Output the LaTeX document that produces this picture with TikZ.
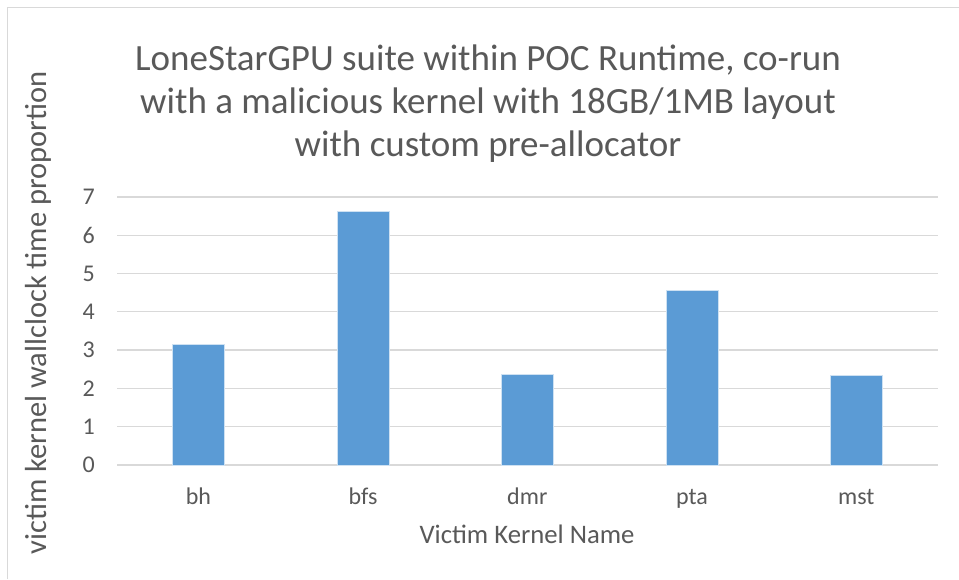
\documentclass[tikz,border=0pt]{standalone}
\usepackage{fontspec}
\setmainfont{Carlito}
\definecolor{barblue}{HTML}{5B9BD5}
\definecolor{gridgray}{HTML}{D9D9D9}
\definecolor{textgray}{HTML}{595959}
\begin{document}
\begin{tikzpicture}[x=1pt,y=-1pt,
  gridline/.style={draw=gridgray,line width=1.3pt},
  chartbar/.style={fill=barblue,draw=white!70!barblue,line width=0.6pt},
  titletext/.style={text=textgray,font=\fontsize{37}{44}\selectfont,inner sep=0pt},
  axistitle/.style={text=textgray,font=\fontsize{26.7}{32}\selectfont,inner sep=0pt},
  yaxistitle/.style={text=textgray,font=\fontsize{30.5}{36}\selectfont,inner sep=0pt},
  ticklabel/.style={text=textgray,font=\fontsize{24}{29}\selectfont,inner sep=0pt}]
\useasboundingbox[fill=white] (0,0) rectangle (959,579);
% chart frame
\draw[gridgray,line width=1.3pt] (7.5,579) -- (7.5,7.5) -- (959,7.5);
% gridlines and tick labels
\foreach \v in {0,...,7}{
  \draw[gridline] (117,{465-\v*38.29}) -- (938,{465-\v*38.29});
  \node[ticklabel,anchor=east] (tick\v) at (95,{465-\v*38.29}) {\v};
}
% bars
\foreach \c/\val/\lab [count=\i from 0] in {198.5/3.16/bh,363/6.63/bfs,527.3/2.38/dmr,692/4.56/pta,856.3/2.34/mst}{
  \fill[chartbar] ({\c-25.8},465) rectangle ({\c+25.8},{465-\val*38.29});
  \node[ticklabel,anchor=base] (cat\i) at (\c,504) {\lab};
}
% titles
\node[titletext,anchor=base] (title1) at (488,70) {LoneStarGPU suite within POC Runtime, co-run};
\node[titletext,anchor=base] (title2) at (488,113) {with a malicious kernel with 18GB/1MB layout};
\node[titletext,anchor=base] (title3) at (488,156) {with custom pre-allocator};
\node[axistitle,anchor=base] (xtitle) at (527,543) {Victim Kernel Name};
\node[yaxistitle,rotate=90,anchor=base] (ytitle) at (46,313) {victim kernel wallclock time proportion};
\end{tikzpicture}
\end{document}
